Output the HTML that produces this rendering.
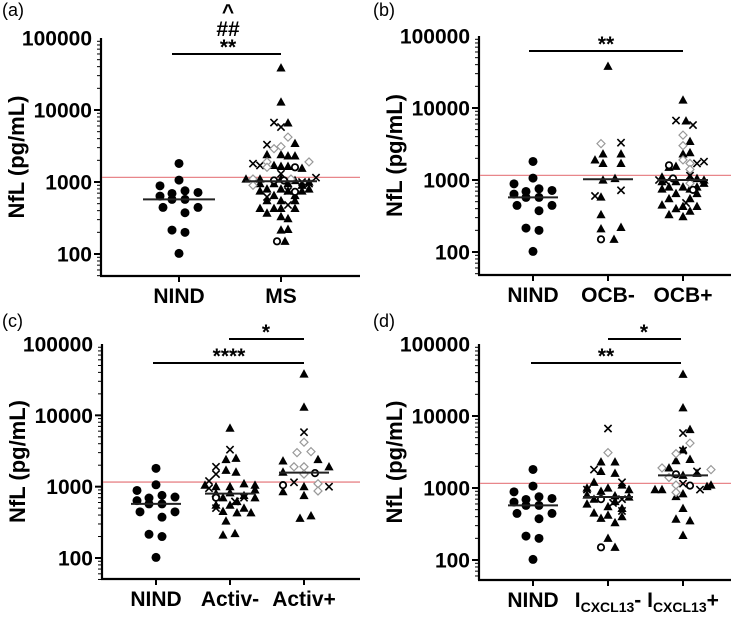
<!DOCTYPE html>
<html><head><meta charset="utf-8"><style>
body{margin:0;background:#fff}
svg{display:block;font-family:"Liberation Sans",Arial,sans-serif}
</style></head><body>
<svg id="fig" width="742" height="622" viewBox="0 0 742 622" xmlns="http://www.w3.org/2000/svg"></svg>
<script>
// ---- data (values in pg/mL, dx jitter offsets, marker type: c=filled circle,t=triangle,x=cross,d=diamond,o=open circle)
const refLine = 1160;
const nindVals = [1808,1062,885,637,693,755,716,573,573,444,444,374,215,200,102];
const nindDx   = [0,0,-19,-19,-7,6,19,-7,6,-16,19,6,-7,6,0];
const nindType = "ccccccccccccccc";

const msVals = [38400,12900,6620,3430,2400,2400,2300,2300,1700,1650,1650,1550,1100,1100,1100,1050,1000,950,950,950,900,800,800,800,750,750,750,650,650,550,550,550,430,430,430,430,370,330,310,215,220,150,
 6700,5800,3300,1800,1700,1300,1150,1000,950,750,620,480,
 4200,3100,2900,1900,1900,1600,1100,900,1100,
 1600,1050,1050,730,150];
const msDx = [0,0,7,14,-14,0,7,14,-7,0,7,21,-35,-21,0,14,28,-21,-7,7,21,-14,0,28,-21,7,21,-7,14,-14,0,14,-21,-7,14,0,-14,0,7,0,7,4,
 -7,0,-14,-28,-21,0,35,21,28,7,-14,7,
 7,0,-7,-14,28,-14,-28,-28,10,
 14,-7,3,14,-4];
const msType = "tttttttttttttttttttttttttttttttttttttttttt"+"xxxxxxxxxxxx"+"ddddddddd"+"ooooo";

const ocbNegVals = [38000,1900,2300,2300,1700,1700,1000,1050,580,330,210,220,150,3300,600,720,3200,150];
const ocbNegDx   = [0,-13,-5,13,-5,13,-5,7,-7,-7,-7,13,6,13,-13,13,-7,-7];
const ocbNegType = "tttttttttttttxxxdo";

const ocbPosVals = [12900,6620,3430,2400,2300,1550,1500,1100,1100,1050,1000,950,950,900,800,800,800,750,750,650,650,550,550,450,430,430,400,370,330,310,
 6700,5800,1800,1700,1150,1000,950,480,
 4200,3000,1900,1700,1400,900,
 1600,1050,730];
const ocbPosDx = [0,3,7,7,0,-7,-14,-21,7,14,21,-21,-7,21,-14,0,14,-21,7,-7,14,-14,7,-21,0,14,-7,7,-14,0,
 -7,10,21,14,7,-24,-17,3,
 0,0,0,7,7,7,
 -14,-10,10];
const ocbPosType = "tttttttttttttttttttttttttttttt"+"xxxxxxxx"+"dddddd"+"ooo";

const actNegVals = [6600,2400,2500,1700,1600,1100,1050,1050,1000,1000,900,820,800,750,700,700,620,550,550,500,450,430,430,330,210,220,
 3300,1900,1500,1200,950,620,700,500,700];
const actNegDx = [0,-4,6,-4,6,14,25,-25,-14,0,25,0,-14,14,25,-7,7,-14,0,14,-7,7,21,-4,-7,5,
 0,-14,-14,-21,-21,5,14,-14,-14];
const actNegType = "tttttttttttttttttttttttttt"+"xxxxxxxx"+"o";

const actPosVals = [38000,13000,2300,1600,2400,1900,850,1000,750,360,390,5800,1150,1000,4200,3000,3100,1900,1900,1500,1100,870,1050,1550];
const actPosDx   = [0,0,-21,-21,14,25,-21,0,0,-4,7,0,-10,25,0,-7,7,-10,0,0,14,14,-21,11];
const actPosType = "ttttttttttt"+"xxx"+"dddddddd"+"oo";

const cxNegVals = [2300,2300,1700,1600,1200,1100,1000,1000,950,900,800,780,750,700,650,600,550,520,450,420,400,380,330,200,150,
 6700,1800,1200,950,620,700,480,3100,700,150];
const cxNegDx = [-7,7,-7,7,-14,14,-21,0,21,-7,-21,7,21,-14,7,-21,0,14,-14,0,14,-7,7,0,7,
 0,-14,14,-21,5,14,14,0,-7,-7];
const cxNegType = "ttttttttttttttttttttttttt"+"xxxxxxx"+"d"+"oo";

const cxPosVals = [38000,13000,6500,3400,2400,2500,1900,1600,1500,1100,1050,950,950,830,760,520,370,350,220,
 5800,3300,1700,1150,950,4200,3000,1900,1800,1400,1100,870,1550,1080];
const cxPosDx = [0,0,7,0,-7,7,-14,14,0,28,24,-28,-21,0,-7,0,-7,7,0,
 0,0,14,0,17,7,-7,-21,28,-14,-7,-7,-7,7];
const cxPosType = "ttttttttttttttttttt"+"xxxxx"+"ddddddd"+"oo";

const yTicks = [100,1000,10000,100000];
const yTickLabels = ["100","1000","10000","100000"];

// ---- drawing
const NS="http://www.w3.org/2000/svg";
const svg=document.getElementById('fig');
function el(tag,attrs,parent){const e=document.createElementNS(NS,tag);for(const k in attrs)e.setAttribute(k,attrs[k]);(parent||svg).appendChild(e);return e;}
function median(a){const s=[...a].sort((x,y)=>x-y);const n=s.length;return n%2?s[(n-1)/2]:(s[n/2-1]+s[n/2])/2;}

function drawPanel(P){
  const g=el('g',{});
  
  
  const yScale=v=>P.y2-(Math.log10(v)-2)*(P.y2-P.y5)/3;
  const lab=el('text',{x:P.lx,y:P.ly,'font-size':18},g);lab.textContent='('+P.id+')';
  
  const ya=el('line',{x1:P.ax,x2:P.ax,y1:P.y5,y2:P.bottom,stroke:'#000','stroke-width':2.2},g);
  
  const xa=el('line',{x1:P.ax-1,x2:P.right,y1:P.bottom,y2:P.bottom,stroke:'#000','stroke-width':2.2},g);
  
  for(let d=1;d<=4;d++){for(let m=1;m<10;m++){const v=m*Math.pow(10,d);if(v>100000)break;const y=yScale(v);if(y>P.bottom+0.5)continue;
    const major=(m===1&&d>=2);
    el('line',{x1:P.ax-(major?7:4),x2:P.ax,y1:y,y2:y,stroke:'#000','stroke-width':major?2:1},g);}}
  yTicks.forEach((v,i)=>{const t=el('text',{x:P.ax-9,y:yScale(v)+7.5,'font-size':21,'font-weight':'bold','text-anchor':'end'},g);t.textContent=yTickLabels[i];
    });
  const yt=el('text',{x:0,y:0,'font-size':22,'font-weight':'bold','text-anchor':'middle',transform:`translate(${P.ax-77},${(P.y5+P.bottom)/2}) rotate(-90)`},g);
  yt.textContent='NfL (pg/mL)';
  P.cats.forEach((cx,i)=>{
    el('line',{x1:cx,x2:cx,y1:P.bottom,y2:P.bottom+6,stroke:'#000','stroke-width':2},g);
    const t=el('text',{x:cx,y:P.bottom+27,'font-size':21,'font-weight':'bold','text-anchor':'middle'},g);
    t.innerHTML=P.labels[i];
  });
  const rl=el('line',{x1:P.ax+1,x2:P.right,y1:yScale(refLine),y2:yScale(refLine),stroke:'#e8868a','stroke-width':1.3},g);
  
  P.groups.forEach((G,gi)=>{
    const cx=P.cats[gi];
    const gg=el('g',{},g);
    
    G.vals.forEach((v,i)=>{
      const x=cx+G.dx[i],y=yScale(v),t=G.type[i];let m;
      if(t==='c')m=el('circle',{cx:x,cy:y,r:4.5,fill:'#000'},gg);
      else if(t==='t')m=el('polygon',{points:`${x},${y-4.8} ${x-4.6},${y+3.6} ${x+4.6},${y+3.6}`,fill:'#000'},gg);
      else if(t==='x')m=el('path',{d:`M${x-3.6},${y-3.6}L${x+3.6},${y+3.6}M${x-3.6},${y+3.6}L${x+3.6},${y-3.6}`,stroke:'#000','stroke-width':1.6},gg);
      else if(t==='d')m=el('polygon',{points:`${x},${y-4} ${x+4},${y} ${x},${y+4} ${x-4},${y}`,fill:'#fff',stroke:'#999','stroke-width':1.2},gg);
      else m=el('circle',{cx:x,cy:y,r:3.2,fill:'#fff',stroke:'#000','stroke-width':1.8},gg);
      
      
    });
    const md=yScale(median(G.vals));
    const ml=el('line',{x1:cx-P.mh,x2:cx+P.mh,y1:md,y2:md,stroke:'#222','stroke-width':2},gg);
    
  });
  P.sig.forEach(s=>{
    const b=el('line',{x1:s.x1,x2:s.x2,y1:s.y,y2:s.y,stroke:'#000','stroke-width':2},g);
    
    s.txt.forEach(tt=>{const t=el('text',{x:tt[1],y:tt[2],'font-size':tt[3]||18,'font-weight':'bold','text-anchor':'middle'},g);t.textContent=tt[0];
      });
  });
}
const sub=n=>`I<tspan font-size="14" dy="5">CXCL13</tspan><tspan dy="-5">${n}</tspan>`;
const NIND={vals:nindVals,dx:nindDx,type:nindType};
drawPanel({id:'a',lx:2,ly:16,ax:101,y5:38,y2:254,bottom:276,right:360,mh:36,cats:[179,281],labels:['NIND','MS'],gnames:['nind','ms'],
  groups:[NIND,{vals:msVals,dx:msDx,type:msType}],
  sig:[{x1:172,x2:281,y:54,txt:[['**',228,54,21],['##',228,36,21],['^',228,19,21]]}]});
drawPanel({id:'b',lx:373,ly:16,ax:479,y5:36,y2:252,bottom:275,right:731,mh:25,cats:[533,608,683],labels:['NIND','OCB-','OCB+'],gnames:['nind','ocb-neg','ocb-pos'],
  groups:[NIND,{vals:ocbNegVals,dx:ocbNegDx,type:ocbNegType},{vals:ocbPosVals,dx:ocbPosDx,type:ocbPosType}],
  sig:[{x1:529,x2:683,y:51,txt:[['**',606,51,21]]}]});
drawPanel({id:'c',lx:2,ly:327,ax:102,y5:344,y2:558,bottom:579,right:360,mh:25,cats:[156,230,304],labels:['NIND','Activ-','Activ+'],gnames:['nind','activ-neg','activ-pos'],
  groups:[NIND,{vals:actNegVals,dx:actNegDx,type:actNegType},{vals:actPosVals,dx:actPosDx,type:actPosType}],
  sig:[{x1:153,x2:304,y:363,txt:[['****',229,363,21]]},{x1:229,x2:304,y:339,txt:[['*',266,339,21]]}]});
drawPanel({id:'d',lx:373,ly:327,ax:479,y5:344,y2:560,bottom:580,right:731,mh:25,cats:[533,608,683],labels:['NIND',sub('-'),sub('+')],gnames:['nind','cxcl13-neg','cxcl13-pos'],
  groups:[NIND,{vals:cxNegVals,dx:cxNegDx,type:cxNegType},{vals:cxPosVals,dx:cxPosDx,type:cxPosType}],
  sig:[{x1:531,x2:681,y:363,txt:[['**',606,363,21]]},{x1:608,x2:681,y:339,txt:[['*',644,339,21]]}]});
</script>
</body></html>
